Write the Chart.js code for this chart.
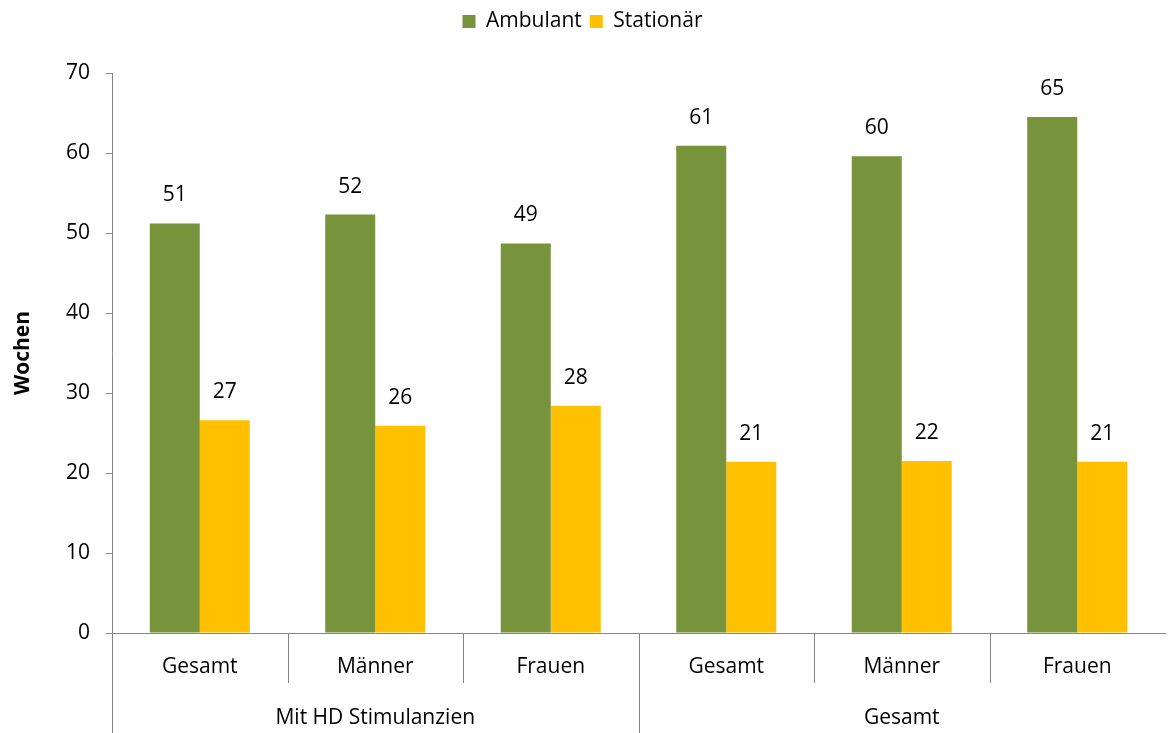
<!DOCTYPE html>
<html>
<head>
<meta charset="utf-8">
<script src="https://cdn.jsdelivr.net/npm/chart.js@4"></script>
<style>
  html, body { margin: 0; padding: 0; background: #fff; }
  #wrap { width: 1169px; height: 733px; }
</style>
</head>
<body>
<div id="wrap"><canvas id="grafica"></canvas></div>
<script>
// Kategorien und Gruppen
const categories = ['Gesamt', 'Männer', 'Frauen', 'Gesamt', 'Männer', 'Frauen'];
const groups = ['Mit HD Stimulanzien', 'Gesamt'];
const groupSize = [3, 3];

// Werte (Wochen)
const ambulant = [51.2, 52.3, 48.7, 60.9, 59.6, 64.5];
const stationaer = [26.6, 25.9, 28.4, 21.4, 21.5, 21.4];

// Y-Achse
const yTicks = [0, 10, 20, 30, 40, 50, 60, 70];

const FONT = '"Open Sans", sans-serif';
const AXIS = '#868686';

// Abstand zwischen Legende und Diagramm
const legendGap = {
  id: 'legendGap',
  afterInit(chart) {
    const fit = chart.legend.fit;
    chart.legend.fit = function () {
      fit.call(this);
      this.height += 31;
    };
  }
};

// Datenbeschriftungen über den Balken
const valueLabels = {
  id: 'valueLabels',
  afterDatasetsDraw(chart) {
    const ctx = chart.ctx;
    ctx.save();
    ctx.font = '21px ' + FONT;
    ctx.fillStyle = '#000';
    ctx.textAlign = 'center';
    ctx.textBaseline = 'middle';
    chart.data.datasets.forEach((ds, i) => {
      chart.getDatasetMeta(i).data.forEach((bar, j) => {
        ctx.fillText(Math.round(ds.data[j]), bar.x, bar.y - 28);
      });
    });
    ctx.restore();
  }
};

// Zweistufige X-Achse
const groupAxis = {
  id: 'groupAxis',
  afterDraw(chart) {
    const ctx = chart.ctx;
    const x = chart.scales.x;
    const area = chart.chartArea;
    const half = (x.getPixelForValue(1) - x.getPixelForValue(0)) / 2;
    ctx.save();
    ctx.strokeStyle = AXIS;
    ctx.lineWidth = 1;
    ctx.fillStyle = '#000';
    ctx.font = '21px ' + FONT;
    ctx.textAlign = 'center';
    ctx.textBaseline = 'middle';
    categories.forEach((c, i) => {
      ctx.fillText(c, x.getPixelForValue(i), area.bottom + 34);
    });
    let start = 0;
    const bounds = [0];
    groups.forEach((g, k) => {
      const end = start + groupSize[k];
      const left = x.getPixelForValue(start) - half;
      const right = x.getPixelForValue(end - 1) + half;
      ctx.fillText(g, (left + right) / 2, area.bottom + 85);
      start = end;
      bounds.push(end);
    });
    for (let i = 0; i < categories.length; i++) {
      const px = Math.round(x.getPixelForValue(i) - half) + 0.5;
      const long = bounds.includes(i);
      ctx.beginPath();
      ctx.moveTo(px, area.bottom);
      ctx.lineTo(px, long ? chart.height : area.bottom + 50);
      ctx.stroke();
    }
    ctx.restore();
  }
};

new Chart(document.getElementById('grafica'), {
  type: 'bar',
  data: {
    labels: categories,
    datasets: [
      {
        label: 'Ambulant',
        data: ambulant,
        backgroundColor: '#77933C',
        categoryPercentage: 0.57,
        barPercentage: 1.0
      },
      {
        label: 'Stationär',
        data: stationaer,
        backgroundColor: '#FFC000',
        categoryPercentage: 0.57,
        barPercentage: 1.0
      }
    ]
  },
  options: {
    responsive: true,
    maintainAspectRatio: false,
    animation: false,
    layout: { padding: { top: 3, right: 4, left: 0, bottom: 0 } },
    plugins: {
      legend: {
        position: 'top',
        labels: {
          font: { family: FONT, size: 21 },
          color: '#000',
          boxWidth: 13,
          boxHeight: 13,
          padding: 8
        }
      },
      tooltip: { enabled: false }
    },
    scales: {
      x: {
        grid: { display: false },
        border: { color: AXIS },
        ticks: { display: false },
        afterFit(scale) { scale.height = 100; }
      },
      y: {
        min: 0,
        max: 70,
        afterBuildTicks(scale) { scale.ticks = yTicks.map(v => ({ value: v })); },
        grid: { display: true, drawOnChartArea: false, drawTicks: true, tickLength: 6, color: AXIS },
        border: { color: AXIS },
        ticks: {
          font: { family: FONT, size: 21 },
          color: '#000',
          padding: 16
        },
        title: {
          display: true,
          text: 'Wochen',
          font: { family: FONT, size: 21, weight: 'bold' },
          color: '#000',
          padding: { top: 10, bottom: 0 }
        },
        afterFit(scale) { scale.width = 112; }
      }
    }
  },
  plugins: [legendGap, valueLabels, groupAxis]
});
</script>
</body>
</html>
